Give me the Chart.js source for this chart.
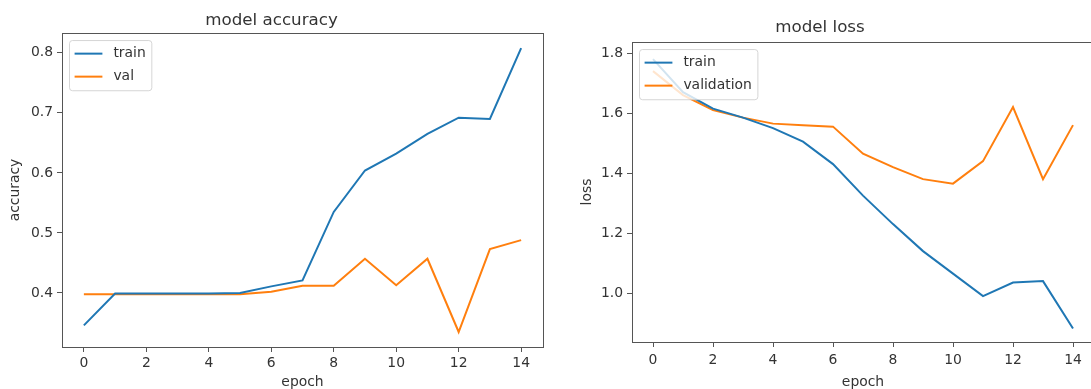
<!DOCTYPE html>
<html>
<head>
<meta charset="utf-8">
<script src="https://cdn.jsdelivr.net/npm/chart.js@4.4.1/dist/chart.umd.min.js"></script>
<style>
    html, body { margin: 0; padding: 0; background: #fff; overflow: hidden; width: 1091px; height: 389px; }
    .wrap { position: absolute; top: 0; }
    #accWrap { left: 0; }
    #lossWrap { left: 546px; }
</style>
</head>
<body>
<div class="wrap" id="accWrap"><canvas id="accChart" width="545" height="389"></canvas></div>
<div class="wrap" id="lossWrap"><canvas id="lossChart" width="560" height="389"></canvas></div>
<script>
// ── Data ──
const epochs = [0, 1, 2, 3, 4, 5, 6, 7, 8, 9, 10, 11, 12, 13, 14];
const epochTicks = [0, 2, 4, 6, 8, 10, 12, 14];

const trainAcc = [0.346, 0.399, 0.399, 0.399, 0.399, 0.400, 0.411, 0.421, 0.535, 0.604, 0.632, 0.665, 0.692, 0.690, 0.808];
const valAcc   = [0.398, 0.398, 0.398, 0.398, 0.398, 0.398, 0.402, 0.412, 0.412, 0.457, 0.413, 0.457, 0.335, 0.473, 0.488];
const accTicks = [0.4, 0.5, 0.6, 0.7, 0.8];

const trainLoss = [1.78, 1.67, 1.615, 1.585, 1.55, 1.505, 1.43, 1.325, 1.23, 1.14, 1.065, 0.99, 1.035, 1.04, 0.882];
const valLoss   = [1.74, 1.66, 1.61, 1.585, 1.565, 1.56, 1.555, 1.465, 1.42, 1.38, 1.365, 1.44, 1.62, 1.38, 1.56];
const lossTicks = [1.0, 1.2, 1.4, 1.6, 1.8];

// ── Style ──
const BLUE = '#1f77b4', ORANGE = '#ff7f0e';
const FONT = 'DejaVu Sans';
const TXT = '#333';
const AXIS = '#555';

// matplotlib-like full frame round the plot area
const framePlugin = {
    id: 'frame',
    afterDatasetsDraw(chart) {
        const { ctx, chartArea: a } = chart;
        ctx.save();
        ctx.strokeStyle = AXIS; ctx.lineWidth = 1;
        ctx.strokeRect(Math.round(a.left) + 0.5, Math.round(a.top) + 0.5, Math.round(a.right - a.left), Math.round(a.bottom - a.top));
        ctx.restore();
    }
};

// legend box inside the plot, upper left
const mplLegend = {
    id: 'mplLegend',
    afterDatasetsDraw(chart, args, opts) {
        const { ctx, chartArea: a } = chart;
        const ds = chart.data.datasets;
        ctx.save();
        ctx.font = '13.9px "' + FONT + '"';
        const textW = Math.max(...ds.map(d => ctx.measureText(d.label).width));
        const pad = 5.6, handle = 27.8, gap = 11, rowH = 16, spacing = 7;
        const x = a.left + 7, y = a.top + 7;
        const w = pad + handle + gap + textW + pad;
        const h = pad * 2 + rowH * ds.length + spacing * (ds.length - 1);
        ctx.fillStyle = 'rgba(255,255,255,0.8)';
        ctx.strokeStyle = 'rgba(204,204,204,0.8)';
        ctx.lineWidth = 1;
        ctx.beginPath(); ctx.roundRect(x + 0.5, y + 0.5, w, h, 3); ctx.fill(); ctx.stroke();
        ds.forEach((d, i) => {
            const cy = y + pad + rowH / 2 + i * (rowH + spacing);
            ctx.strokeStyle = d.borderColor; ctx.lineWidth = 2;
            ctx.beginPath(); ctx.moveTo(x + pad, cy); ctx.lineTo(x + pad + handle, cy); ctx.stroke();
            ctx.fillStyle = TXT; ctx.textBaseline = 'middle'; ctx.textAlign = 'left';
            ctx.fillText(d.label, x + pad + handle + gap, cy);
        });
        ctx.restore();
    }
};

function makeChart(id, cfg) {
    const tickFont = { family: FONT, size: 13.9 };
    return new Chart(document.getElementById(id), {
        type: 'line',
        data: {
            datasets: [
                { label: cfg.labels[0], data: epochs.map((e, i) => ({ x: e, y: cfg.train[i] })), borderColor: BLUE },
                { label: cfg.labels[1], data: epochs.map((e, i) => ({ x: e, y: cfg.val[i] })), borderColor: ORANGE }
            ]
        },
        options: {
            responsive: false, animation: false,
            elements: { point: { radius: 0 }, line: { borderWidth: 2, tension: 0, fill: false } },
            layout: { padding: { left: 0, right: cfg.padRight, top: 0, bottom: 0 } },
            plugins: {
                legend: { display: false }, tooltip: { enabled: false },
                title: { display: true, text: cfg.title, color: TXT, font: { family: FONT, size: 16.7, weight: 'normal', lineHeight: 1.2 }, padding: cfg.titlePad }
            },
            scales: {
                x: {
                    type: 'linear', min: -0.7, max: 14.7,
                    afterBuildTicks: s => { s.ticks = epochTicks.map(v => ({ value: v })); },
                    afterFit: s => { s.height = cfg.xHeight; },
                    border: { display: false },
                    grid: { drawOnChartArea: false, drawTicks: true, tickLength: 5, tickColor: AXIS },
                    ticks: { color: TXT, font: tickFont, padding: cfg.xTickPad, maxRotation: 0, autoSkip: false, callback: v => String(v) },
                    title: { display: true, text: 'epoch', color: TXT, font: { family: FONT, size: 13.9, lineHeight: 1.0 }, padding: { top: 0, bottom: 0 } }
                },
                y: {
                    min: cfg.yMin, max: cfg.yMax,
                    afterBuildTicks: s => { s.ticks = cfg.yTicks.map(v => ({ value: v })); },
                    afterFit: s => { s.width = cfg.yWidth; },
                    border: { display: false },
                    grid: { drawOnChartArea: false, drawTicks: true, tickLength: 5, tickColor: AXIS },
                    ticks: { color: TXT, font: tickFont, padding: 4, callback: v => Number(v).toFixed(1) },
                    title: { display: true, text: cfg.yLabel, color: TXT, font: { family: FONT, size: 13.9, lineHeight: 1.2 }, padding: { top: cfg.yTitlePad, bottom: 0 } }
                }
            }
        },
        plugins: [framePlugin, mplLegend]
    });
}

makeChart('accChart', {
    title: 'model accuracy', labels: ['train', 'val'], train: trainAcc, val: valAcc,
    yMin: 0.31, yMax: 0.833, yTicks: accTicks, yLabel: 'accuracy',
    yWidth: 62, padRight: 2, xHeight: 42, xTickPad: 3, titlePad: { top: 11, bottom: 2 }, yTitlePad: 7
});

makeChart('lossChart', {
    title: 'model loss', labels: ['train', 'validation'], train: trainLoss, val: valLoss,
    yMin: 0.837, yMax: 1.837, yTicks: lossTicks, yLabel: 'loss',
    yWidth: 86, padRight: 12, xHeight: 47, xTickPad: 5, titlePad: { top: 18, bottom: 4 }, yTitlePad: 33
});
</script>
</body>
</html>
